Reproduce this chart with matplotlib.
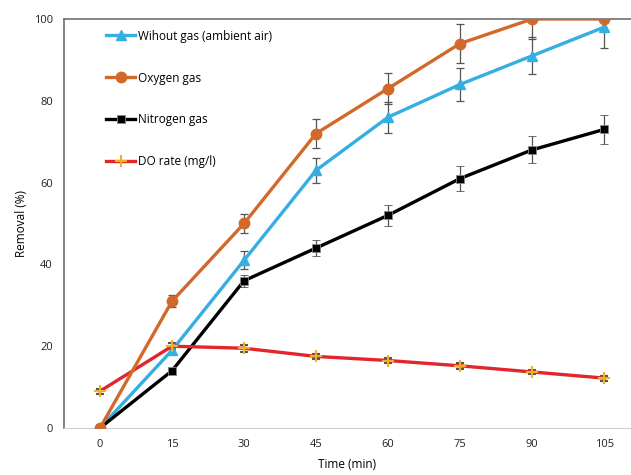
import matplotlib
matplotlib.use("Agg")
import matplotlib.pyplot as plt
from matplotlib.lines import Line2D

time = [0, 15, 30, 45, 60, 75, 90, 105]
without_gas = [0, 19, 41, 63, 76, 84, 91, 98]
without_err = [0, 1.0, 2.2, 3.0, 3.8, 4.0, 4.5, 5.0]
oxygen = [0, 31, 50, 72, 83, 94, 100, 100]
oxygen_err = [0, 1.5, 2.4, 3.5, 3.9, 4.7, 5.0, 0]
nitrogen = [0, 14, 36, 44, 52, 61, 68, 73]
nitrogen_err = [0, 0.5, 1.5, 2.0, 2.6, 3.0, 3.3, 3.5]
do_rate = [9, 20, 19.5, 17.5, 16.5, 15.2, 13.7, 12.2]
do_err = [0.6, 0.8, 0.8, 0.7, 0.7, 0.7, 0.6, 0.6]
labels = ["Wihout gas (ambient air)", "Oxygen gas", "Nitrogen gas", "DO rate (mg/l)"]

plt.rcParams['font.family'] = ['Open Sans', 'DejaVu Sans']
fig = plt.figure(figsize=(6.31, 4.75), dpi=100)
ax = fig.add_axes([64/631, 47/475, 567/631, 409/475])

ekw = dict(ecolor='#555555', elinewidth=0.9, capsize=3, capthick=0.9)
styles = [
    dict(color='#35aee2', marker='^', ms=7),
    dict(color='#d2692b', marker='o', ms=7.5),
    dict(color='#000000', marker='s', ms=5.5, mec='#888888', mew=0.6),
    dict(color='#e2262c', marker='+', ms=9, mec='#f0b020', mew=1.5),
]
series = [(without_gas, without_err), (oxygen, oxygen_err),
          (nitrogen, nitrogen_err), (do_rate, do_err)]
zs = [3, 4, 3, 3]
handles = []
for (vals, err), st, lab, z in zip(series, styles, labels, zs):
    ax.errorbar(time, vals, yerr=err, lw=2.4, zorder=z, **st, **ekw)
    handles.append(Line2D([], [], lw=2.4, label=lab, **st))

ax.set_xlim(-7.5, 110.6)
ax.set_ylim(0, 100)
ax.set_xticks(time)
ax.set_yticks([0, 20, 40, 60, 80, 100])
ax.tick_params(length=0, labelsize=8, colors='#222222', pad=8)
ax.set_xlabel("Time (min)", fontsize=8.5, labelpad=6)
ax.set_ylabel("Removal (%)", fontsize=8.5, labelpad=4)
for s in ['left', 'top']:
    ax.spines[s].set_color('#707070')
    ax.spines[s].set_linewidth(1.2)
ax.spines['bottom'].set_color('#d0d0d0')
ax.spines['right'].set_visible(False)

ax.legend(handles=handles, loc='upper left', bbox_to_anchor=(0.055, 1.0),
          frameon=False, fontsize=8.5, labelspacing=2.45, handlelength=2.5,
          handletextpad=0.2)

fig.savefig("out.png", dpi=100)
